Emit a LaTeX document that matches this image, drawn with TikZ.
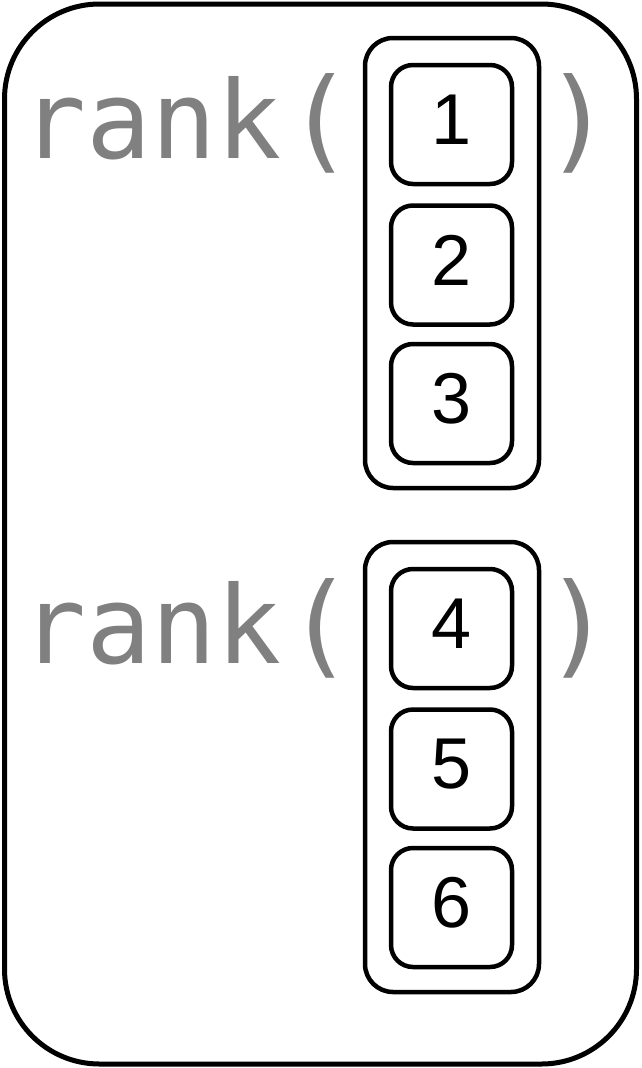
\documentclass[tikz,border=0pt]{standalone}
\usepackage{fontspec}
\setmainfont{Liberation Sans}
\newfontfamily\codefont{DejaVu Sans Mono}
\begin{document}
\begin{tikzpicture}[x=1pt,y=-1pt,
  outerbox/.style={draw=black,line width=5pt,rounded corners=95pt,inner sep=0pt,minimum width=632pt,minimum height=1060pt},
  groupbox/.style={draw=black,line width=4.5pt,rounded corners=28pt,inner sep=0pt,minimum width=174pt,minimum height=450pt},
  cellbox/.style={draw=black,line width=4.5pt,rounded corners=22pt,inner sep=0pt,minimum width=121pt,minimum height=119pt},
  digit/.style={inner sep=0pt,font=\fontsize{72}{72}\selectfont},
  code/.style={inner sep=0pt,text=gray,font=\codefont\fontsize{108}{108}\selectfont},
  paren/.style={inner sep=0pt,text=gray,font=\codefont\fontsize{112}{112}\selectfont}]
\useasboundingbox (0,0) rectangle (642,1068);
\node[outerbox] (outer) at (320.5,534) {};
% first group
\node[groupbox] (g1) at (452,263) {};
\node[cellbox] (c1) at (451.5,124.5) {};
\node[cellbox] (c2) at (451.5,265) {};
\node[cellbox] (c3) at (451.5,403.5) {};
\node[digit] (d1) at ([yshift=5pt]c1.center) {1};
\node[digit] (d2) at ([yshift=5pt]c2.center) {2};
\node[digit] (d3) at ([yshift=5pt]c3.center) {3};
\node[code,anchor=base west] (r1) at (21,158) {rank};
\node[paren,anchor=base] (q1) at (320,158) {(};
\node[paren,anchor=base] (p1) at (578,158) {)};
% second group
\node[groupbox] (g2) at (452,767) {};
\node[cellbox] (c4) at (451.5,628.5) {};
\node[cellbox] (c5) at (451.5,769) {};
\node[cellbox] (c6) at (451.5,907.5) {};
\node[digit] (d4) at ([yshift=5pt]c4.center) {4};
\node[digit] (d5) at ([yshift=5pt]c5.center) {5};
\node[digit] (d6) at ([yshift=5pt]c6.center) {6};
\node[code,anchor=base west] (r2) at (21,663) {rank};
\node[paren,anchor=base] (q2) at (320,663) {(};
\node[paren,anchor=base] (p2) at (578,663) {)};
\end{tikzpicture}
\end{document}
